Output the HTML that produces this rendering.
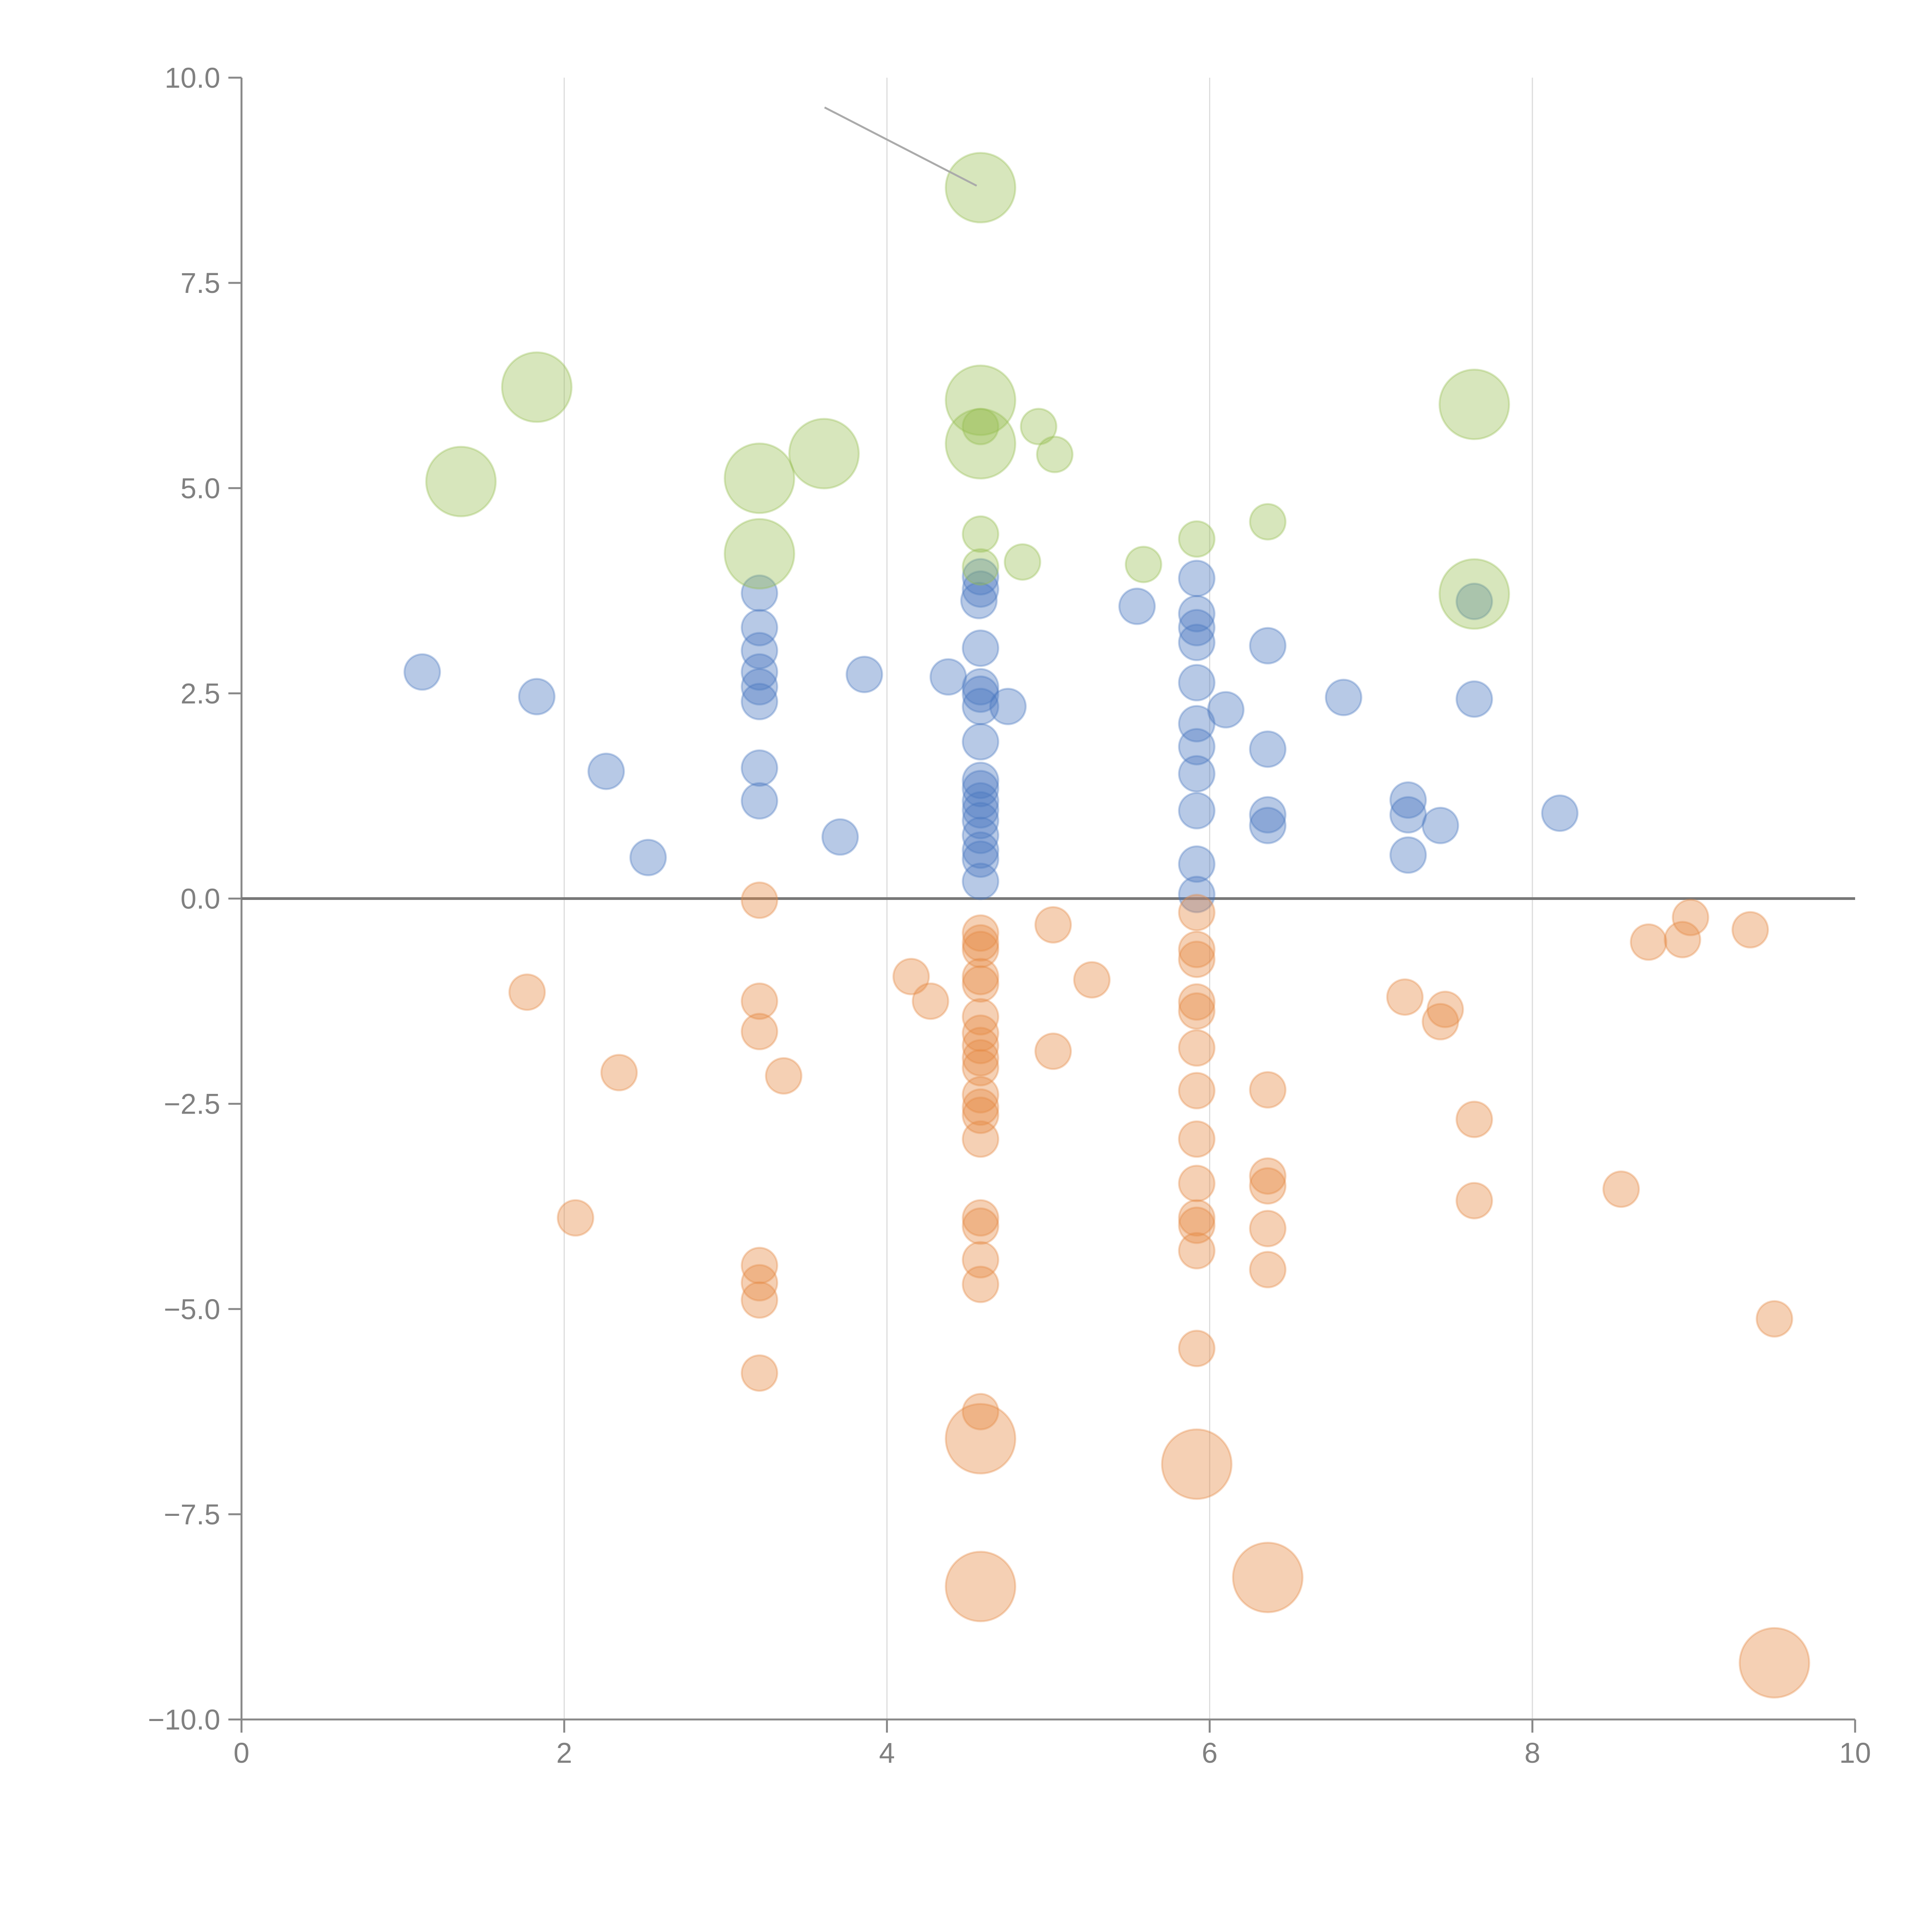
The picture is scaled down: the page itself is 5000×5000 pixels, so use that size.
<!DOCTYPE html>
<html><head><meta charset="utf-8"><style>
html,body{margin:0;padding:0;background:#fff;}
svg{display:block;}
text{font-family:"Liberation Sans",sans-serif;fill:#808080;}
</style></head><body>
<svg id="chart" width="5000" height="5000" viewBox="0 0 5000 5000" xmlns="http://www.w3.org/2000/svg">
<g id="grid"></g>
<g id="axes"></g>
<g id="marks"></g>
</svg>
<script>
const xTicks=[0,2,4,6,8,10];
const yTicks=[10,7.5,5,2.5,0,-2.5,-5,-7.5,-10];
const yTickLabels=["10.0","7.5","5.0","2.5","0.0","\u22122.5","\u22125.0","\u22127.5","\u221210.0"];
const blueX=[1.12,1.83,2.26,2.52,3.21,3.21,3.21,3.21,3.21,3.21,3.21,3.21,3.71,3.86,4.38,4.58,4.58,4.57,4.58,4.58,4.58,4.58,4.75,4.58,4.58,4.58,4.58,4.58,4.58,4.58,4.58,4.58,4.58,5.55,5.92,5.92,5.92,5.92,5.92,5.92,6.10,5.92,5.92,5.92,5.92,5.92,6.36,6.36,6.36,6.36,6.83,7.23,7.23,7.23,7.43,7.64,7.64,8.17];
const blueY=[2.76,2.46,1.55,0.50,3.72,3.30,3.02,2.76,2.58,2.40,1.59,1.19,0.75,2.73,2.70,3.92,3.77,3.63,3.05,2.58,2.49,2.34,2.34,1.91,1.44,1.34,1.19,1.08,0.95,0.77,0.59,0.48,0.21,3.56,3.90,3.47,3.30,3.12,2.63,2.13,2.30,1.85,1.52,1.07,0.42,0.05,3.08,1.82,1.02,0.89,2.45,1.20,1.02,0.53,0.89,3.62,2.43,1.04];
const orangeX=[3.21,1.77,3.21,3.21,2.34,3.36,2.07,3.21,3.21,3.21,3.21,4.15,4.27,4.58,4.58,4.58,4.58,4.58,4.58,4.58,4.58,4.58,4.58,4.58,4.58,4.58,4.58,4.58,4.58,4.58,4.58,4.58,4.58,4.58,5.03,5.03,5.27,5.92,5.92,5.92,5.92,5.92,5.92,5.92,5.92,5.92,5.92,5.92,5.92,5.92,5.92,6.36,6.36,6.36,6.36,6.36,6.36,7.21,7.46,7.43,7.64,7.64,8.55,8.72,8.93,8.98,9.35,9.50,9.50];
const orangeY=[-0.02,-1.14,-1.25,-1.62,-2.12,-2.16,-3.89,-4.47,-4.68,-4.89,-5.78,-0.95,-1.25,-0.42,-0.54,-0.62,-0.95,-1.04,-1.44,-1.64,-1.79,-1.94,-2.06,-2.39,-2.54,-2.64,-2.93,-3.89,-3.99,-4.40,-4.70,-6.25,-6.58,-8.38,-0.32,-1.86,-0.99,-0.17,-0.62,-0.74,-1.26,-1.37,-1.82,-2.34,-2.93,-3.47,-3.89,-3.98,-4.29,-5.48,-6.89,-2.33,-3.38,-3.50,-4.02,-4.52,-8.27,-1.20,-1.35,-1.50,-2.69,-3.68,-3.54,-0.53,-0.50,-0.23,-0.38,-5.12,-9.31];
const orangeSize=[1,1,1,1,1,1,1,1,1,1,1,1,1,1,1,1,1,1,1,1,1,1,1,1,1,1,1,1,1,1,1,1,2,2,1,1,1,1,1,1,1,1,1,1,1,1,1,1,1,1,2,1,1,1,1,1,2,1,1,1,1,1,1,1,1,1,1,1,2];
const greenX=[4.58,1.83,1.36,3.21,3.21,3.61,4.58,4.58,4.58,4.94,5.04,4.58,4.58,4.84,5.59,5.92,6.36,7.64,7.64];
const greenY=[8.66,6.23,5.08,5.12,4.20,5.42,6.07,5.54,5.75,5.75,5.41,4.44,4.04,4.10,4.07,4.38,4.59,6.02,3.71];
const greenSize=[2,2,2,2,2,2,2,2,1,1,1,1,1,1,1,1,1,2,2];

const X0=625,X1=4801,Y0=4450,Y1=201;
const sx=v=>X0+(v-0)/(10-0)*(X1-X0);
const sy=v=>Y0-(v+10)/20*(Y0-Y1);
const NS="http://www.w3.org/2000/svg";
function mk(tag,attrs,parent){const e=document.createElementNS(NS,tag);for(const k in attrs)e.setAttribute(k,attrs[k]);parent.appendChild(e);return e;}
const grid=document.getElementById('grid'),axes=document.getElementById('axes'),marks=document.getElementById('marks');
xTicks.forEach(t=>{
  if(t>0&&t<10){const g=mk('line',{x1:sx(t),x2:sx(t),y1:Y1,y2:Y0,stroke:'#dcdcdc','stroke-width':3},grid);
  
  }
  const tk=mk('line',{x1:sx(t),x2:sx(t),y1:Y0,y2:Y0+34,stroke:'#888','stroke-width':5},axes);
  
  
  const tx=mk('text',{x:sx(t),y:Y0+112,'font-size':74,'text-anchor':'middle'},axes);
  tx.textContent=String(t);
  
  
});
yTicks.forEach((t,i)=>{
  const tk=mk('line',{x1:X0-34,x2:X0,y1:sy(t),y2:sy(t),stroke:'#888','stroke-width':5},axes);
  
  
  const tx=mk('text',{x:X0-55,y:sy(t)+26,'font-size':74,'text-anchor':'end'},axes);
  tx.textContent=yTickLabels[i];
  
  
});
const ya=mk('line',{x1:X0,x2:X0,y1:Y1,y2:Y0+2,stroke:'#888','stroke-width':5},axes);


const xa=mk('line',{x1:X0-2,x2:X1,y1:Y0,y2:Y0,stroke:'#888','stroke-width':5},axes);


const zl=mk('line',{x1:X0,x2:X1,y1:sy(0),y2:sy(0),stroke:'#777','stroke-width':7},axes);


const rad=s=>s===2?90:46;
function series(xs,ys,sizes,fill,stroke,name){
  xs.forEach((x,i)=>{
    const c=mk('circle',{cx:sx(x),cy:sy(ys[i]),r:rad(sizes?sizes[i]:1),fill:fill,stroke:stroke,'stroke-width':5},marks);
    
    
  });
}
series(blueX,blueY,null,'rgba(74,120,193,0.4)','rgba(74,120,193,0.35)','blue-bubble');
series(orangeX,orangeY,orangeSize,'rgba(230,138,68,0.4)','rgba(230,138,68,0.35)','orange-bubble');
series(greenX,greenY,greenSize,'rgba(150,190,80,0.38)','rgba(150,190,80,0.35)','green-bubble');
const ann=mk('line',{x1:2134,y1:278,x2:sx(4.58)-10,y2:sy(8.66)-5,stroke:'#aaa','stroke-width':5},marks);


</script>
</body></html>
